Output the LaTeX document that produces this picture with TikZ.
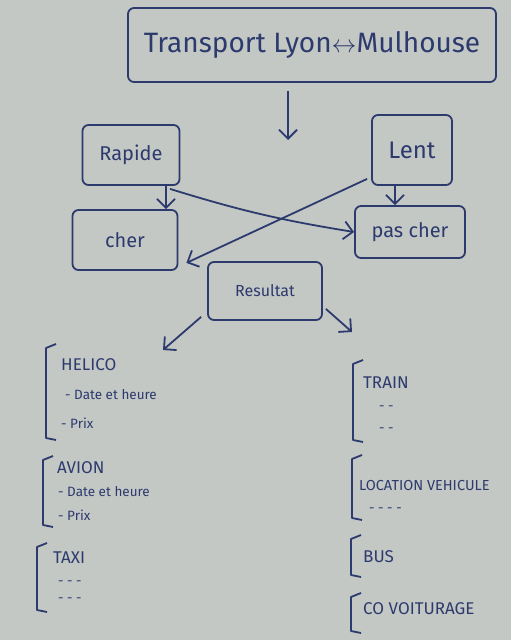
\documentclass[tikz,border=0pt]{standalone}
\usepackage{fontspec}
\setmainfont{Fira Sans}
\usetikzlibrary{arrows.meta}

\definecolor{tableau}{RGB}{196,200,196}
\definecolor{feutre}{RGB}{45,58,110}

\tikzset{
  boite/.style={draw=feutre, line width=1.8pt, rounded corners=6pt, text=feutre, inner sep=0pt,
    font=\fontsize{20}{22}\selectfont},
  fleche/.style={draw=feutre, line width=1.8pt, -{Straight Barb[length=9pt,width=18pt]}},
  tete/.style={anchor=west, text=feutre, inner sep=1pt, font=\fontsize{17}{19}\selectfont},
  item/.style={anchor=west, text=feutre, inner sep=1pt, font=\fontsize{13.5}{15}\selectfont},
  crochet/.style={draw=feutre, line width=1.8pt, line join=round}
}

% crochet de liste : x, haut, bas
\newcommand{\crochetliste}[3]{%
  \draw[crochet] ({#1+10},#2) -- (#1,{#2+4}) -- (#1,{#3-2}) -- ({#1+10},#3);}

\begin{document}
\begin{tikzpicture}[x=1pt,y=-1pt]
  % Tableau
  \fill[tableau] (0,0) rectangle (511,640);
  \useasboundingbox (0,0) rectangle (511,640);

  % Titre
  \node[boite, minimum width=368pt, minimum height=74pt,
    font=\fontsize{28}{30}\selectfont] (trajet) at (312,45) {Transport Lyon$\leftrightarrow$Mulhouse};

  % Criteres
  \node[boite, minimum width=97pt, minimum height=60pt] (rapide) at (131,155) {Rapide};
  \node[boite, minimum width=80pt, minimum height=70pt,
    font=\fontsize{24}{26}\selectfont] (lent) at (412,150) {Lent};
  \node[boite, minimum width=105pt, minimum height=60pt] (cher) at (125,240) {cher};
  \node[boite, minimum width=110pt, minimum height=52pt] (pascher) at (410,232) {pas cher};
  \node[boite, minimum width=114pt, minimum height=58pt,
    font=\fontsize{16}{18}\selectfont] (resultat) at (265,291) {Resultat};

  % Fleches
  \coordinate (choix) at (288,140);
  \coordinate (gauche) at (163,350);
  \coordinate (droite) at (352,332);
  \draw[fleche] ([xshift=-24pt,yshift=-8pt]trajet.south) -- (choix);
  \draw[fleche] ([xshift=35pt]rapide.south) -- ([xshift=41pt]cher.north);
  \draw[fleche] ([xshift=39pt,yshift=-3pt]rapide.south) to[bend right=4] (pascher.west);
  \draw[fleche] ([xshift=-4pt,yshift=7pt]lent.south west) -- ([xshift=8pt,yshift=8pt]cher.south east);
  \draw[fleche] ([xshift=-17pt]lent.south) -- ([xshift=-15pt]pascher.north);
  \draw[fleche] ([xshift=-6pt,yshift=4pt]resultat.south west) -- (gauche);
  \draw[fleche] ([xshift=3pt,yshift=12pt]resultat.south east) -- (droite);

  % Liste de gauche
  \crochetliste{46}{344}{440}
  \node[tete] (helico) at (60,365) {HELICO};
  \node[item] (helico1) at (64,395) {- Date et heure};
  \node[item] (helico2) at (60,423) {- Prix};

  \crochetliste{43}{456}{527}
  \node[tete] (avion) at (56,468) {AVION};
  \node[item] (avion1) at (57,492) {- Date et heure};
  \node[item] (avion2) at (57,515) {- Prix};

  \crochetliste{37}{543}{612}
  \node[tete] (taxi) at (52,558) {TAXI};
  \node[item] (taxi1) at (57,583) {- - -};
  \node[item] (taxi2) at (57,600) {- - -};

  % Liste de droite
  \crochetliste{353}{360}{442}
  \node[tete] (train) at (362,383) {TRAIN};
  \node[item] (train1) at (378,408) {- -};
  \node[item] (train2) at (378,430) {- -};

  \crochetliste{352}{455}{520}
  \node[tete, font=\fontsize{14.5}{16}\selectfont] (location) at (358,485) {LOCATION VEHICULE};
  \node[item] (location1) at (368,510) {- - - -};

  \crochetliste{351}{535}{577}
  \node[tete] (bus) at (362,557) {BUS};

  \crochetliste{351}{593}{633}
  \node[tete] (covoit) at (362,609) {CO VOITURAGE};
\end{tikzpicture}
\end{document}
